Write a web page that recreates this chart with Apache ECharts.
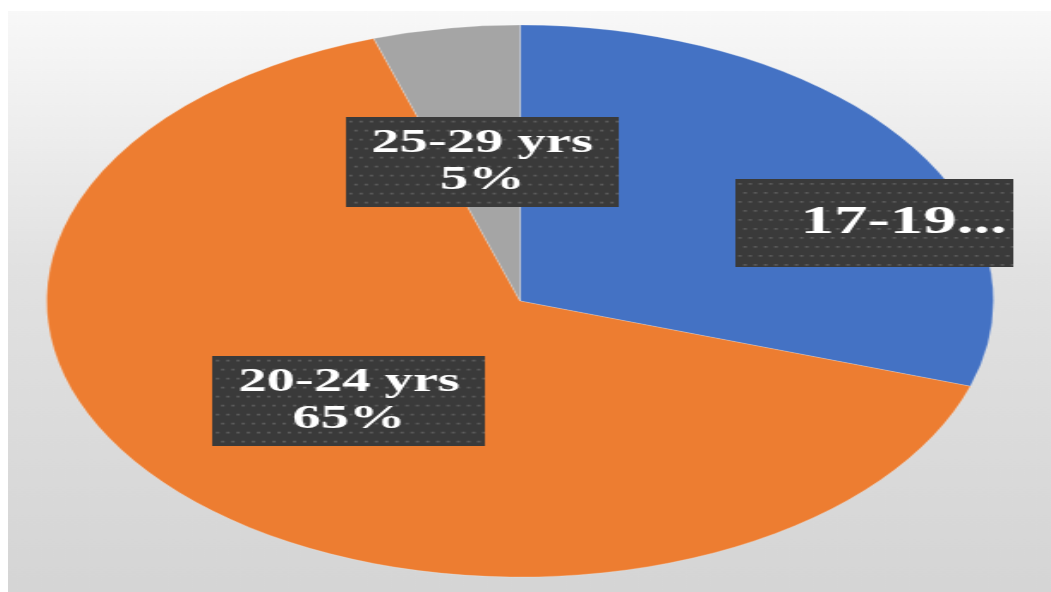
<!DOCTYPE html>
<html>
<head>
<meta charset="utf-8">
<script src="https://cdn.jsdelivr.net/npm/echarts@6/dist/echarts.min.js"></script>
<style>
  html, body { margin: 0; padding: 0; background: #ffffff; }
  #wrap { position: absolute; left: 8px; top: 11px; width: 1043px; height: 581px; overflow: hidden; }
  /* the pie is drawn round and then widened into an ellipse */
  #chart { position: absolute; left: 0; top: 0; width: 608px; height: 581px;
           transform: scaleX(1.7155); transform-origin: 0 0; }
</style>
</head>
<body>
<div id="wrap"><div id="chart"></div></div>
<script>
// Age groups and their share of respondents (%)
const ageGroups = ['17-19 yrs', '20-24 yrs', '25-29 yrs'];
const shares = [30, 65, 5];
const sliceColors = ['#4472C4', '#ED7D31', '#A5A5A5'];

// Dark dotted fill used behind the data labels
function dottedTile(w, h) {
  const c = document.createElement('canvas');
  c.width = w; c.height = h;
  const g = c.getContext('2d');
  g.fillStyle = '#3a3a3a';
  g.fillRect(0, 0, w, h);
  g.fillStyle = '#606060';
  let row = 0;
  for (let y = 4; y < h; y += 9, row++) {
    for (let x = (row % 2) * 3 + 2; x < w; x += 6) {
      g.fillRect(x, y, 2, 1.6);
    }
  }
  return c;
}
const labelFill = { image: dottedTile(160, 90) };
const blueFill = { image: dottedTile(162, 88) };

const labelBase = {
  show: true,
  position: 'inside',
  color: '#ffffff',
  fontFamily: '"Liberation Serif", "Times New Roman", serif',
  fontWeight: 'bold',
  fontSize: 33,
  lineHeight: 37,
  backgroundColor: labelFill,
  padding: [8, 15, 8, 15],
  shadowColor: 'rgba(0,0,0,0.55)',
  shadowBlur: 6,
  shadowOffsetX: 3,
  shadowOffsetY: 4,
  formatter: '{b}\n{d}%'
};

const data = ageGroups.map((name, i) => ({
  name: name,
  value: shares[i],
  itemStyle: { color: sliceColors[i] }
}));

// first slice: label too wide for its box, so it gets cut with an ellipsis
data[0].label = {
  formatter: '{b}',
  fontSize: 39,
  lineHeight: 46,
  width: 127,
  overflow: 'truncate',
  ellipsis: '...',
  align: 'left',
  padding: [21, 0, 21, 35],
  backgroundColor: blueFill,
  offset: [92, 5]
};

const chart = echarts.init(document.getElementById('chart'), null, { renderer: 'canvas' });
chart.setOption({
  animation: false,
  backgroundColor: {
    type: 'linear', x: 0, y: 0, x2: 0, y2: 1,
    colorStops: [
      { offset: 0, color: '#f8f8f8' },
      { offset: 0.45, color: '#e1e1e1' },
      { offset: 1, color: '#d5d5d5' }
    ]
  },
  series: [{
    type: 'pie',
    center: [298.5, 290],
    radius: [0, 276],
    startAngle: 90,
    clockwise: true,
    avoidLabelOverlap: false,
    labelLine: { show: false },
    itemStyle: { borderColor: 'rgba(255,255,255,0.35)', borderWidth: 0.6 },
    label: labelBase,
    data: data
  }]
});
</script>
</body>
</html>
